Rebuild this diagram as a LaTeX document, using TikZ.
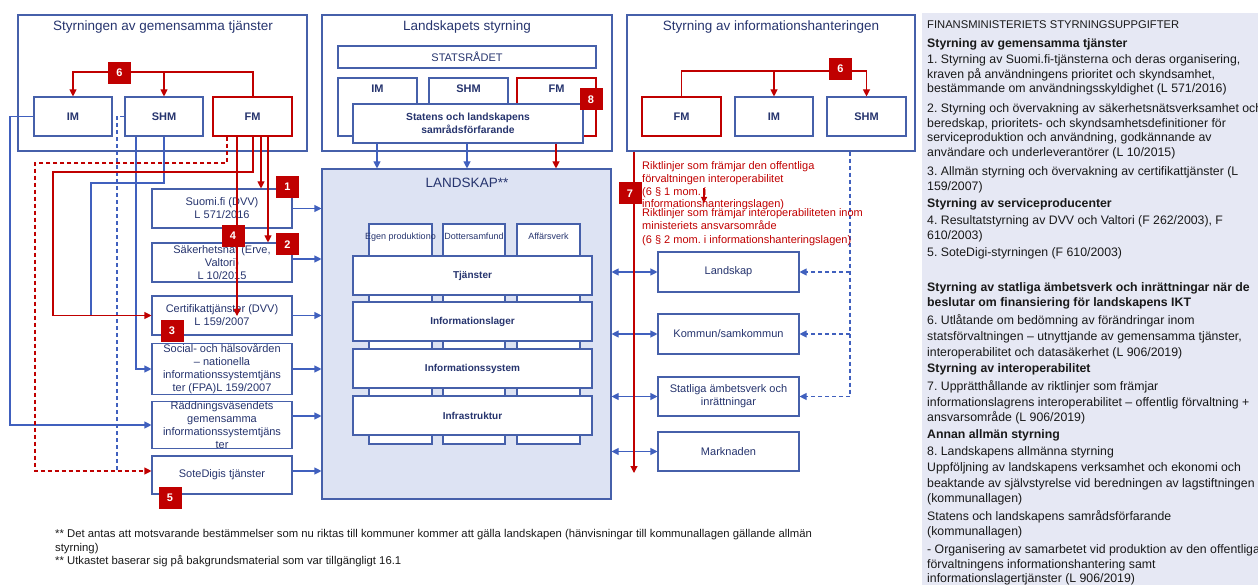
\documentclass[tikz,border=0pt]{standalone}
\usepackage{fontspec}
\setmainfont{Liberation Sans}
\usetikzlibrary{arrows.meta}
\frenchspacing
\definecolor{boxblue}{RGB}{70,96,170}
\definecolor{lineblue}{RGB}{64,96,190}
\definecolor{navy}{RGB}{38,52,110}
\definecolor{myred}{RGB}{192,0,0}
\definecolor{landfill}{RGB}{221,227,243}
\definecolor{panelfill}{RGB}{230,232,244}
\definecolor{txt}{RGB}{25,25,25}
\tikzset{
 panel/.style={draw=boxblue, line width=1.1pt, inner sep=0pt},
 ptitle/.style={text=navy, font=\fontsize{13.5}{16}\selectfont, anchor=base, inner sep=0pt},
 box/.style={draw=boxblue, line width=1.1pt, fill=white, text=navy, align=center, inner sep=0pt, font=\fontsize{11}{13}\selectfont},
 rbox/.style={box, draw=myred},
 bbox/.style={box, font=\bfseries\fontsize{11}{13}\selectfont},
 rbbox/.style={bbox, draw=myred},
 num/.style={fill=myred, text=white, font=\bfseries\fontsize{11}{13}\selectfont, minimum width=23pt, minimum height=22pt, inner sep=0pt},
 bl/.style={draw=lineblue, line width=1.1pt},
 blA/.style={bl, -{Triangle[length=7pt,width=7pt]}},
 blAA/.style={bl, {Triangle[length=7pt,width=7pt]}-{Triangle[length=7pt,width=7pt]}},
 bld/.style={bl, dash pattern=on 4pt off 3pt},
 bldA/.style={bld, -{Triangle[length=7pt,width=7pt]}},
 rd/.style={draw=myred, line width=1.1pt},
 rdA/.style={rd, -{Triangle[length=7pt,width=7pt]}},
 rddA/.style={rdA, dash pattern=on 4pt off 3pt},
 rtext/.style={text=myred, font=\fontsize{11}{13}\selectfont, anchor=base west, inner sep=0pt},
 ptext/.style={text=txt, font=\fontsize{12.3}{15}\selectfont, anchor=base west, inner sep=0pt},
 phead/.style={ptext, font=\bfseries\fontsize{12.3}{15}\selectfont},
 ftext/.style={text=txt, font=\fontsize{11.3}{13}\selectfont, anchor=base west, inner sep=0pt},
 lay/.style={box, font=\bfseries\fontsize{10}{12}\selectfont, minimum width=239pt, minimum height=39pt},
 col/.style={box, minimum width=63pt, minimum height=220pt},
 clab/.style={text=navy, font=\fontsize{9}{11}\selectfont, anchor=base, inner sep=0pt},
 lbox/.style={box, minimum width=140pt},
 rrbox/.style={box, minimum width=141pt},
}
\begin{document}
\begin{tikzpicture}[x=1pt,y=-1pt]
\useasboundingbox (0,0) rectangle (1258,585);
% right text panel
\fill[panelfill] (922,13) rectangle (1258,585);

% ---------- panels ----------
\node[panel, minimum width=289pt, minimum height=136pt] (pL) at (162.5,83) {};
\node[ptitle] (tL) at (163,31) {Styrningen av gemensamma tjänster};
\node[panel, minimum width=290pt, minimum height=136pt] (pM) at (467,83) {};
\node[ptitle] (tM) at (467,31) {Landskapets styrning};
\node[panel, minimum width=288pt, minimum height=136pt] (pR) at (771,83) {};
\node[ptitle] (tR) at (771,31) {Styrning av informationshanteringen};

% left panel boxes
\node[bbox, minimum width=78pt, minimum height=39pt] (lIM) at (73,116.5) {IM};
\node[bbox, minimum width=78pt, minimum height=39pt] (lSHM) at (164,116.5) {SHM};
\node[rbbox, minimum width=79pt, minimum height=39pt] (lFM) at (252.5,116.5) {FM};

% middle panel boxes
\node[box, minimum width=258pt, minimum height=22pt] (stat) at (467,57) {STATSRÅDET};
\node[box, minimum width=79pt, minimum height=58pt] (mIM) at (377.5,107) {};
\node[box, minimum width=79pt, minimum height=58pt] (mSHM) at (468.5,107) {};
\node[rbox, minimum width=79pt, minimum height=58pt] (mFM) at (556.5,107) {};
\node[clab, font=\bfseries\fontsize{11}{13}\selectfont] (mIMt) at (377.5,93) {IM};
\node[clab, font=\bfseries\fontsize{11}{13}\selectfont] (mSHMt) at (468.5,93) {SHM};
\node[clab, font=\bfseries\fontsize{11}{13}\selectfont] (mFMt) at (556.5,93) {FM};
\node[box, font=\bfseries\fontsize{10.3}{13}\selectfont, minimum width=230pt, minimum height=39pt] (samr) at (468,123.5) {Statens och landskapens\\samrådsförfarande};

% right panel boxes
\node[rbbox, minimum width=79pt, minimum height=39pt] (rFM) at (681.5,116.5) {FM};
\node[bbox, minimum width=78pt, minimum height=39pt] (rIM) at (774,116.5) {IM};
\node[bbox, minimum width=79pt, minimum height=39pt] (rSHM) at (866.5,116.5) {SHM};

% left service boxes
\node[lbox, minimum height=39pt] (suomi) at (222,208.5) {Suomi.fi (DVV)\\L 571/2016};
\node[lbox, minimum height=39pt] (saker) at (222,262.5) {Säkerhetsnät (Erve,\\Valtori)\\L 10/2015};
\node[lbox, minimum height=39pt] (cert) at (222,315.5) {Certifikattjänster (DVV)\\L 159/2007};
\node[lbox, minimum height=50pt] (social) at (222,369) {Social- och hälsovården\\– nationella\\informationssystemtjäns\\ter (FPA)L 159/2007};
\node[lbox, minimum height=46pt] (radd) at (222,425) {Räddningsväsendets\\gemensamma\\informationssystemtjäns\\ter};
\node[lbox, minimum height=38pt] (sote) at (222,475) {SoteDigis tjänster};

% LANDSKAP
\node[draw=boxblue, fill=landfill, line width=1.1pt, minimum width=289pt, minimum height=330pt, inner sep=0pt] (land) at (466.5,334) {};
\node[ptitle, font=\fontsize{13.5}{16}\selectfont] (landt) at (467,188) {LANDSKAP**};
\node[col] (c1) at (400.5,334) {};
\node[col, minimum width=62pt] (c2) at (474,334) {};
\node[col] (c3) at (548.5,334) {};
\node[clab] (c1t) at (400.5,240) {Egen produktiono};
\node[clab] (c2t) at (474,240) {Dottersamfund};
\node[clab] (c3t) at (548.5,240) {Affärsverk};
\node[lay] (l1) at (472.5,275.5) {Tjänster};
\node[lay] (l2) at (472.5,321.5) {Informationslager};
\node[lay] (l3) at (472.5,368.5) {Informationssystem};
\node[lay] (l4) at (472.5,415.5) {Infrastruktur};

% right boxes
\node[rrbox, minimum height=40pt] (rl) at (728.5,272) {Landskap};
\node[rrbox, minimum height=40pt] (rk) at (728.5,334) {Kommun/samkommun};
\node[rrbox, minimum height=39pt] (rs) at (728.5,396.5) {Statliga ämbetsverk och\\inrättningar};
\node[rrbox, minimum height=39pt] (rm) at (728.5,451.5) {Marknaden};

% ---------- connectors ----------
% left panel "6"
\draw[rdA] (253,0 |- lFM.north) -- (253,72) -| (lIM.north);
\draw[rdA] (lSHM.north |- 0,72) -- (lSHM.north);
% right panel "6"
\draw[rdA] (rFM.north) -- (681.5,71) -| (rSHM.north);
\draw[rdA] (rIM.north |- 0,71) -- (rIM.north);
% middle to LANDSKAP
\draw[blA] (377,0 |- samr.south) -- (377,0 |- land.north);
\draw[blA] (467,0 |- samr.south) -- (467,0 |- land.north);
\draw[rdA] (556,0 |- samr.south) -- (556,0 |- land.north);
% blue from IM / SHM
\draw[blA] (lIM.west) -- (10,0 |- lIM.west) |- (radd.west);
\draw[blA] (136,0 |- lSHM.south) |- (social.west);
\draw[bl] (lSHM.south) -- (164,183) -| (91,0 |- cert.west);
\draw[bld] (lSHM.west) -- (117,0 |- lSHM.west) -- (117,471);
% red from FM
\draw[rddA] (227,0 |- lFM.south) -- (227,163) -| (35,471) -- ([yshift=4pt]sote.west);
\draw[rdA] (253,0 |- lFM.south) -- (253,172) -| (53,0 |- cert.west) -- (cert.west);
\draw[rdA] (237,0 |- lFM.south) -- (237,316);
\draw[rdA] (261,0 |- lFM.south) -- (261,0 |- suomi.north);
\draw[rdA] (268,0 |- lFM.south) -- (268,0 |- saker.north);
% services to LANDSKAP
\draw[blA] (suomi.east) -- (land.west |- suomi.east);
\draw[blA] (saker.east |- 0,259) -- (land.west |- 0,259);
\draw[blA] (cert.east) -- (land.west |- cert.east);
\draw[blA] (social.east) -- (land.west |- social.east);
\draw[blA] (radd.east |- 0,416) -- (land.west |- 0,416);
\draw[blA] (sote.east |- 0,471) -- (land.west |- 0,471);
% LANDSKAP to right boxes
\draw[blAA] (land.east |- rl.west) -- (rl.west);
\draw[blAA] (land.east |- rk.west) -- (rk.west);
\draw[blAA] (land.east |- rs.west) -- (rs.west);
\draw[blAA] (land.east |- rm.west) -- (rm.west);
% dashed from right SHM
\draw[bld] (850,0 |- pR.south) -- (850,0 |- rs.east);
\draw[bldA] (850,0 |- rl.east) -- (rl.east);
\draw[bldA] (850,0 |- rk.east) -- (rk.east);
\draw[bldA] (850,0 |- rs.east) -- (rs.east);
% red 7
\coordinate (e7) at (634,473);
\draw[rdA] (634,0 |- pR.south) -- (e7);
\node[rtext] (r1) at (642,170) {Riktlinjer som främjar den offentliga};
\node[rtext] (r2) at (642,183) {förvaltningen interoperabilitet};
\node[rtext] (r3) at (642,196) {(6 § 1 mom. i};
\node[rtext] (r4) at (642,208) {informationshanteringslagen)};
\node[rtext] (r5) at (642,217) {Riktlinjer som främjar interoperabiliteten inom};
\node[rtext] (r6) at (642,230) {ministeriets ansvarsområde};
\node[rtext] (r7) at (642,244) {(6 § 2 mom. i informationshanteringslagen)};
\coordinate (s7a) at (704,188);
\coordinate (s7b) at (704,203);
\draw[rd, -{Triangle[length=6pt,width=6pt]}] (s7a) -- (s7b);

% ---------- number labels ----------
\node[num] (n6l) at (119.5,73) {6};
\node[num] (n6r) at (840.5,69) {6};
\node[num] (n8) at (591,99.5) {8};
\node[num] (n1) at (287.5,187) {1};
\node[num] (n2) at (287.5,244.5) {2};
\node[num] (n4) at (233,236) {4};
\node[num] (n3) at (172,330.5) {3};
\node[num] (n5) at (170,497.5) {5};
\node[num] (n7) at (630,193.5) {7};

% ---------- footnotes ----------
\node[ftext] (f1) at (55,537) {** Det antas att motsvarande bestämmelser som nu riktas till kommuner kommer att gälla landskapen (hänvisningar till kommunallagen gällande allmän};
\node[ftext] (f2) at (55,551) {styrning)};
\node[ftext] (f3) at (55,564) {** Utkastet baserar sig på bakgrundsmaterial som var tillgängligt 16.1};

% ---------- right text panel ----------
\node[ptext, font=\fontsize{11.2}{14}\selectfont] (t1) at (927,29) {FINANSMINISTERIETS STYRNINGSUPPGIFTER};
\node[phead] (t2) at (927,48) {Styrning av gemensamma tjänster};
\node[ptext] (t3) at (927,64) {1. Styrning av Suomi.fi-tjänsterna och deras organisering,};
\node[ptext] (t4) at (927,79) {kraven på användningens prioritet och skyndsamhet,};
\node[ptext] (t5) at (927,93) {bestämmande om användningsskyldighet (L 571/2016)};
\node[ptext] (t6) at (927,113) {2. Styrning och övervakning av säkerhetsnätsverksamhet och};
\node[ptext] (t7) at (927,128) {beredskap, prioritets- och skyndsamhetsdefinitioner för};
\node[ptext] (t8) at (927,142) {serviceproduktion och användning, godkännande av};
\node[ptext] (t9) at (927,157) {användare och underleverantörer (L 10/2015)};
\node[ptext] (t10) at (927,176) {3. Allmän styrning och övervakning av certifikattjänster (L};
\node[ptext] (t11) at (927,191) {159/2007)};
\node[phead] (t12) at (927,208) {Styrning av serviceproducenter};
\node[ptext] (t13) at (927,225) {4. Resultatstyrning av DVV och Valtori (F 262/2003), F};
\node[ptext] (t14) at (927,240) {610/2003)};
\node[ptext] (t15) at (927,257) {5. SoteDigi-styrningen (F 610/2003)};
\node[phead] (t16) at (927,291) {Styrning av statliga ämbetsverk och inrättningar när de};
\node[phead] (t17) at (927,307) {beslutar om finansiering för landskapens IKT};
\node[ptext] (t18) at (927,324) {6. Utlåtande om bedömning av förändringar inom};
\node[ptext] (t19) at (927,340) {statsförvaltningen – utnyttjande av gemensamma tjänster,};
\node[ptext] (t20) at (927,356) {interoperabilitet och datasäkerhet (L 906/2019)};
\node[phead] (t21) at (927,372) {Styrning av interoperabilitet};
\node[ptext] (t22) at (927,390) {7. Upprätthållande av riktlinjer som främjar};
\node[ptext] (t23) at (927,406) {informationslagrens interoperabilitet – offentlig förvaltning +};
\node[ptext] (t24) at (927,421) {ansvarsområde (L 906/2019)};
\node[phead] (t25) at (927,438) {Annan allmän styrning};
\node[ptext] (t26) at (927,455) {8. Landskapens allmänna styrning};
\node[ptext] (t27) at (927,471) {Uppföljning av landskapens verksamhet och ekonomi och};
\node[ptext] (t28) at (927,487) {beaktande av självstyrelse vid beredningen av lagstiftningen};
\node[ptext] (t29) at (927,502) {(kommunallagen)};
\node[ptext] (t30) at (927,520) {Statens och landskapens samrådsförfarande};
\node[ptext] (t31) at (927,535) {(kommunallagen)};
\node[ptext] (t32) at (927,553) {- Organisering av samarbetet vid produktion av den offentliga};
\node[ptext] (t33) at (927,568) {förvaltningens informationshantering samt};
\node[ptext] (t34) at (927,582) {informationslagertjänster (L 906/2019)};
\end{tikzpicture}
\end{document}
